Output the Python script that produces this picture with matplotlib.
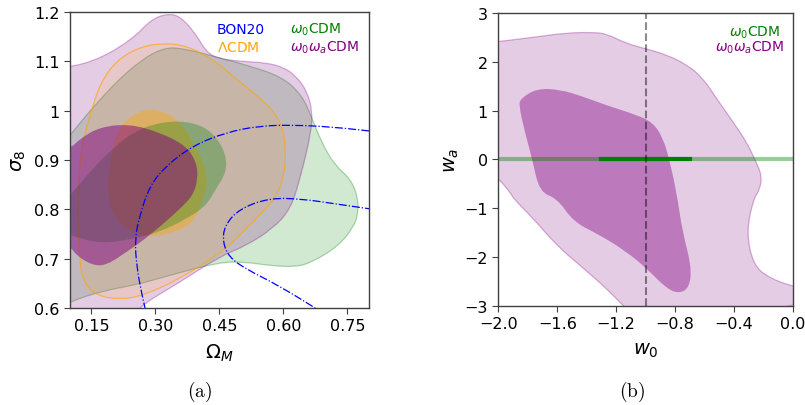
import numpy as np
import matplotlib
matplotlib.use('Agg')
import matplotlib.pyplot as plt
from matplotlib.path import Path
from matplotlib.patches import PathPatch

# ---- panel (a): Omega_M vs sigma_8 contour outlines
purple_outer = [(0.05, 0.55), (0.05, 1.085), (0.10, 1.088), (0.17, 1.105), (0.248, 1.146),
                (0.29, 1.185), (0.33, 1.197), (0.36, 1.19), (0.395, 1.155), (0.42, 1.118),
                (0.45, 1.105), (0.50, 1.10), (0.56, 1.097), (0.60, 1.088), (0.63, 1.07),
                (0.655, 1.04), (0.668, 1.0), (0.665, 0.955), (0.641, 0.868), (0.617, 0.80),
                (0.574, 0.76), (0.512, 0.726), (0.45, 0.704), (0.357, 0.652), (0.256, 0.60),
                (0.22, 0.55)]
green_outer = [(0.05, 0.59), (0.05, 0.90), (0.10, 0.95), (0.17, 1.024), (0.248, 1.091),
               (0.318, 1.129), (0.372, 1.125), (0.442, 1.109), (0.52, 1.091), (0.598, 1.068),
               (0.644, 1.031), (0.668, 0.983), (0.69, 0.935), (0.72, 0.89), (0.757, 0.862),
               (0.775, 0.825), (0.775, 0.79), (0.765, 0.765), (0.73, 0.726), (0.668, 0.693),
               (0.629, 0.683), (0.567, 0.686), (0.512, 0.693), (0.45, 0.693), (0.333, 0.666),
               (0.256, 0.647), (0.178, 0.635), (0.10, 0.613)]
orange_outer = [(0.119, 0.821), (0.123, 0.90), (0.135, 0.956), (0.147, 0.99), (0.17, 1.055),
                (0.209, 1.102), (0.263, 1.129), (0.318, 1.137), (0.372, 1.132), (0.434, 1.105),
                (0.504, 1.054), (0.567, 1.01), (0.598, 0.97), (0.606, 0.916), (0.602, 0.868),
                (0.582, 0.821), (0.528, 0.774), (0.481, 0.733), (0.45, 0.71), (0.357, 0.659),
                (0.271, 0.625), (0.217, 0.617), (0.162, 0.625), (0.131, 0.652), (0.122, 0.699),
                (0.119, 0.767)]
orange_inner = [(0.279, 1.005), (0.232, 0.983), (0.205, 0.95), (0.193, 0.889), (0.186, 0.835),
                (0.201, 0.787), (0.232, 0.76), (0.279, 0.743), (0.333, 0.75), (0.388, 0.77),
                (0.41, 0.815), (0.422, 0.855), (0.415, 0.89), (0.39, 0.935), (0.36, 0.975),
                (0.326, 0.997)]
green_inner = [(0.05, 0.78), (0.10, 0.828), (0.16, 0.89), (0.217, 0.936), (0.25, 0.956),
               (0.294, 0.973), (0.357, 0.98), (0.41, 0.97), (0.445, 0.945), (0.466, 0.909),
               (0.466, 0.875), (0.442, 0.841), (0.419, 0.807), (0.372, 0.78), (0.31, 0.754),
               (0.248, 0.74), (0.17, 0.73), (0.104, 0.747), (0.05, 0.76)]
purple_inner = [(0.05, 0.72), (0.05, 0.93), (0.10, 0.922), (0.123, 0.943), (0.17, 0.967),
                (0.24, 0.973), (0.31, 0.956), (0.372, 0.929), (0.396, 0.896), (0.40, 0.862),
                (0.388, 0.828), (0.357, 0.80), (0.287, 0.747), (0.232, 0.713), (0.186, 0.687),
                (0.154, 0.686), (0.115, 0.706), (0.10, 0.726)]
bon20_outer = [(0.277, 0.595), (0.267, 0.632), (0.256, 0.686), (0.252, 0.74), (0.263, 0.787),
               (0.287, 0.848), (0.326, 0.889), (0.388, 0.929), (0.466, 0.956), (0.543, 0.969),
               (0.621, 0.971), (0.714, 0.967), (0.81, 0.958)]
bon20_inner = [(0.81, 0.80), (0.722, 0.811), (0.644, 0.821), (0.567, 0.823), (0.497, 0.801),
               (0.462, 0.767), (0.458, 0.733), (0.473, 0.703), (0.512, 0.679), (0.59, 0.645),
               (0.68, 0.597)]

om_ticks = [0.15, 0.30, 0.45, 0.60, 0.75]
s8_ticks = [0.6, 0.7, 0.8, 0.9, 1.0, 1.1, 1.2]
s8_labels = ['0.6', '0.7', '0.8', '0.9', '1', '1.1', '1.2']

# ---- panel (b): w0 vs wa
wa_outer = [(-2.05, 2.40), (-2.0, 2.41), (-1.76, 2.5), (-1.536, 2.59), (-1.356, 2.60),
            (-1.265, 2.57), (-1.13, 2.37), (-1.005, 2.27), (-0.858, 2.14), (-0.72, 1.94),
            (-0.61, 1.66), (-0.52, 1.25), (-0.407, 0.77), (-0.316, 0.36), (-0.26, 0.01),
            (-0.21, -0.33), (-0.226, -0.63), (-0.267, -0.8), (-0.316, -1.48), (-0.27, -2.16),
            (-0.16, -2.43), (0.0, -2.6), (0.05, -2.62), (0.05, -3.1), (-1.12, -3.1),
            (-1.152, -2.99), (-1.288, -2.58), (-1.446, -2.17), (-1.604, -1.76), (-1.763, -1.21),
            (-1.898, -0.80), (-1.92, -0.67), (-2.0, -0.39), (-2.05, -0.3)]
wa_inner = [(-1.86, 1.10), (-1.85, 1.24), (-1.74, 1.45), (-1.58, 1.43), (-1.42, 1.28),
            (-1.26, 1.10), (-1.08, 0.93), (-0.95, 0.76), (-0.88, 0.42), (-0.84, 0.01),
            (-0.79, -0.67), (-0.75, -1.48), (-0.69, -2.17), (-0.70, -2.61), (-0.77, -2.75),
            (-0.86, -2.64), (-0.99, -2.24), (-1.13, -1.89), (-1.31, -1.55), (-1.49, -1.28),
            (-1.60, -0.80), (-1.72, -0.67), (-1.77, 0.01), (-1.82, 0.56)]
w0_cdm_range = [-1.30, -0.70]
w0_ticks = [-2.0, -1.6, -1.2, -0.8, -0.4, 0.0]
wa_ticks = [-3, -2, -1, 0, 1, 2, 3]


def smooth_closed(pts):
    # quadratic bezier through midpoints, points act as control points
    p = np.array(pts)
    n = len(p)
    mids = (p + np.roll(p, -1, axis=0)) / 2
    verts = [mids[-1]]
    codes = [Path.MOVETO]
    for i in range(n):
        verts += [p[i], mids[i]]
        codes += [Path.CURVE3, Path.CURVE3]
    verts.append(mids[-1])
    codes.append(Path.CLOSEPOLY)
    return Path(verts, codes)


def smooth_open(pts):
    p = np.array(pts)
    verts = [p[0]]
    codes = [Path.MOVETO]
    for i in range(1, len(p) - 1):
        verts += [p[i], (p[i] + p[i + 1]) / 2]
        codes += [Path.CURVE3, Path.CURVE3]
    verts.append(p[-1])
    codes.append(Path.LINETO)
    return Path(verts, codes)


def blob(ax, pts, color, alpha, ec_alpha=0.35, lw=0.9):
    ax.add_patch(PathPatch(smooth_closed(pts), facecolor=matplotlib.colors.to_rgba(color, alpha),
                           edgecolor=matplotlib.colors.to_rgba(color, ec_alpha), lw=lw))


plt.rcParams['mathtext.fontset'] = 'dejavusans'
spine_col = '#404040'

fig = plt.figure(figsize=(8.05, 4.06), dpi=100)
ax1 = fig.add_axes([0.087, 0.239, 0.371, 0.729])
ax2 = fig.add_axes([0.619, 0.244, 0.366, 0.722])

# panel (a)
blob(ax1, green_outer, 'green', 0.18, 0.3)
blob(ax1, purple_outer, 'purple', 0.2, 0.3)
blob(ax1, orange_outer, 'orange', 0.12, 0.65, lw=0.9)
blob(ax1, orange_inner, 'orange', 0.4, 0.0)
blob(ax1, green_inner, 'green', 0.3, 0.0)
blob(ax1, purple_inner, 'purple', 0.5, 0.0)
for curve in [bon20_outer, bon20_inner]:
    ax1.add_patch(PathPatch(smooth_open(curve), fill=False, edgecolor='blue', lw=0.9, linestyle='-.'))

ax1.text(0.492, 0.943, 'BON20', color='blue', fontsize=10, transform=ax1.transAxes, va='center')
ax1.text(0.492, 0.882, r'$\Lambda$CDM', color='orange', fontsize=10, transform=ax1.transAxes, va='center')
ax1.text(0.736, 0.943, r'$\omega_0$CDM', color='green', fontsize=10, transform=ax1.transAxes, va='center')
ax1.text(0.736, 0.882, r'$\omega_0\omega_a$CDM', color='purple', fontsize=10, transform=ax1.transAxes, va='center')

ax1.set_xlim(0.1, 0.8)
ax1.set_ylim(0.6, 1.2)
ax1.set_xticks(om_ticks)
ax1.set_xticklabels(['%.2f' % t for t in om_ticks])
ax1.set_yticks(s8_ticks)
ax1.set_yticklabels(s8_labels)
ax1.set_xlabel(r'$\Omega_M$', fontsize=14, labelpad=6)
ax1.set_ylabel(r'$\sigma_8$', fontsize=14)

# panel (b)
blob(ax2, wa_outer, 'purple', 0.2, 0.3)
blob(ax2, wa_inner, 'purple', 0.4, 0.0)
ax2.axhline(0, color='green', alpha=0.4, lw=3)
ax2.plot(w0_cdm_range, [0, 0], color='green', lw=3)
ax2.axvline(-1, color='k', alpha=0.45, lw=1.5, ls='--')
ax2.text(0.958, 0.934, r'$\omega_0$CDM', color='green', fontsize=10, transform=ax2.transAxes,
         ha='right', va='center')
ax2.text(0.969, 0.883, r'$\omega_0\omega_a$CDM', color='purple', fontsize=10, transform=ax2.transAxes,
         ha='right', va='center')
ax2.set_xlim(-2.0, 0.0)
ax2.set_ylim(-3, 3)
ax2.set_xticks(w0_ticks)
ax2.set_yticks(wa_ticks)
ax2.set_xlabel(r'$w_0$', fontsize=14, labelpad=6)
ax2.set_ylabel(r'$w_a$', fontsize=14, labelpad=2)

for ax in [ax1, ax2]:
    ax.tick_params(labelsize=11.5, color=spine_col, length=4)
    for s in ax.spines.values():
        s.set_color(spine_col)
        s.set_linewidth(1.0)

fig.text(0.248, 0.035, r'$\mathrm{(a)}$', fontsize=14, math_fontfamily='cm', ha='center', va='center')
fig.text(0.785, 0.035, r'$\mathrm{(b)}$', fontsize=14, math_fontfamily='cm', ha='center', va='center')

fig.savefig('out.png', dpi=100)
